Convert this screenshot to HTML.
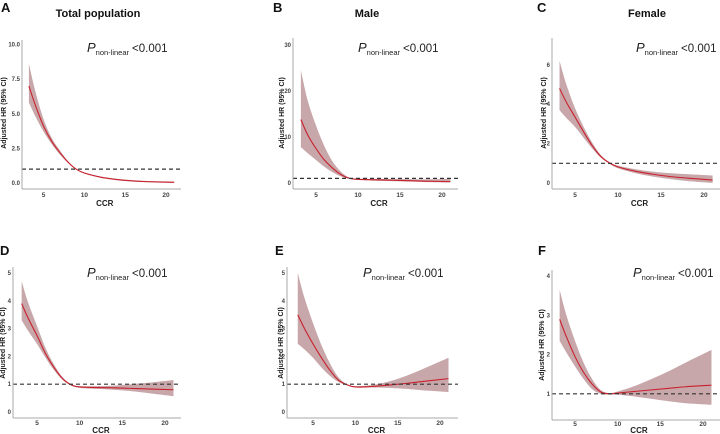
<!DOCTYPE html>
<html><head><meta charset="utf-8"><style>
body{margin:0;background:#fff;}
svg{display:block;font-family:"Liberation Sans",sans-serif;}
</style></head><body>
<svg id="fig" width="720" height="434" viewBox="0 0 720 434"></svg>
<script>
const xs=[3.2,4,5,6,7,8,9,10,12,14,16,18,21];
const xTicks=[5,10,15,20];
const hrA=[7.0,5.6,4.1,3.0,2.2,1.5,1.0,0.72,0.42,0.25,0.15,0.09,0.05];
const loA=[5.8,4.8,3.7,2.8,2.05,1.45,0.98,0.68,0.38,0.2,0.1,0.05,0.01];
const hiA=[8.6,6.6,4.6,3.25,2.35,1.58,1.02,0.76,0.47,0.3,0.2,0.14,0.1];
const hrB=[13.8,10.5,7.5,5,3.2,1.8,1.0,0.8,0.7,0.6,0.5,0.4,0.3];
const hiB=[24.5,18,12.5,8,4.6,2.4,1.15,0.95,0.9,0.9,0.85,0.8,0.9];
const loB=[7.8,6.5,5,3.5,2.3,1.4,0.9,0.65,0.5,0.4,0.3,0.2,0.1];
const hrC=[4.8,4.1,3.35,2.6,1.9,1.35,1.02,0.82,0.6,0.45,0.33,0.25,0.15];
const hiC=[6.2,5.0,3.8,2.85,2.05,1.42,1.05,0.88,0.7,0.58,0.5,0.45,0.38];
const loC=[3.7,3.3,2.85,2.3,1.75,1.28,0.98,0.75,0.5,0.33,0.2,0.1,0.0];
const hrD=[3.9,3.35,2.75,2.1,1.6,1.2,0.98,0.9,0.88,0.87,0.85,0.83,0.8];
const hiD=[4.7,3.9,3.1,2.3,1.7,1.25,1.0,0.93,0.93,0.95,1.0,1.05,1.15];
const loD=[3.3,2.9,2.45,1.95,1.5,1.15,0.95,0.87,0.83,0.8,0.75,0.68,0.57];
const hrE=[3.5,3.0,2.45,1.95,1.5,1.15,0.98,0.9,0.92,0.97,1.03,1.1,1.2];
const hiE=[5.0,4.1,3.2,2.4,1.75,1.25,1.0,0.93,0.97,1.1,1.3,1.55,1.95];
const loE=[2.45,2.25,1.95,1.6,1.3,1.08,0.96,0.88,0.88,0.87,0.83,0.78,0.72];
const hrF=[2.9,2.45,1.95,1.55,1.25,1.05,1.0,1.02,1.06,1.1,1.14,1.18,1.22];
const hiF=[3.65,3.0,2.35,1.8,1.38,1.1,1.02,1.06,1.2,1.38,1.58,1.8,2.12];
const loF=[2.35,2.05,1.7,1.38,1.12,1.0,0.98,0.98,0.93,0.87,0.81,0.76,0.72];
const yTicksA=["0.0","2.5","5.0","7.5","10.0"];
const yTicksB=["0","10","20","30"];
const yTicksC=["0","2","4","6"];
const yTicksD=["0","1","2","3","4","5"];
const yTicksF=["1","2","3","4"];

const NS="http://www.w3.org/2000/svg";
const svg=document.getElementById('fig');
function mk(tag,attrs,parent,text){const e=document.createElementNS(NS,tag);for(const k in attrs)e.setAttribute(k,attrs[k]);if(text!==undefined)e.textContent=text;(parent||svg).appendChild(e);return e;}
function spline(pts){let d="M"+pts[0][0]+","+pts[0][1];for(let i=0;i<pts.length-1;i++){const p0=pts[Math.max(i-1,0)],p1=pts[i],p2=pts[i+1],p3=pts[Math.min(i+2,pts.length-1)];const c1=[p1[0]+(p2[0]-p0[0])/6,p1[1]+(p2[1]-p0[1])/6],c2=[p2[0]-(p3[0]-p1[0])/6,p2[1]-(p3[1]-p1[1])/6];d+=" C"+c1[0]+","+c1[1]+" "+c2[0]+","+c2[1]+" "+p2[0]+","+p2[1];}return d;}

const panels=[
 {id:'a',letter:'A',lx:1,ly:12,title:'Total population',tx:98,ty:17,ax:22,top:40,bot:189,right:181,x5:43.6,xu:8.16,y0:183,yu:13.85,yt:yTicksA,hr:hrA,lo:loA,hi:hiA,dashEnd:183,px:87,py:52,ylx:6,cy:113,tk:8,ct:17},
 {id:'b',letter:'B',lx:273,ly:12,title:'Male',tx:367,ty:17,ax:293,top:38,bot:189,right:458,x5:316,xu:8.4,y0:183,yu:4.6,yt:yTicksB,hr:hrB,lo:loB,hi:hiB,dashEnd:460,px:358,py:52,ylx:284,cy:113,tk:8,ct:17},
 {id:'c',letter:'C',lx:537,ly:12,title:'Female',tx:647,ty:17,ax:552,top:38,bot:189,right:720,x5:575,xu:8.6,y0:183,yu:19.7,yt:yTicksC,hr:hrC,lo:loC,hi:hiC,dashEnd:720,px:636,py:52,ylx:546,cy:113,tk:8,ct:17},
 {id:'d',letter:'D',lx:0,ly:255,title:'',ax:13,top:267,bot:418,right:181,x5:37,xu:8.53,y0:412,yu:27.8,yt:yTicksD,hr:hrD,lo:loD,hi:hiD,dashEnd:181,px:87,py:277,ylx:5,cy:343,tk:7,ct:15},
 {id:'e',letter:'E',lx:275,ly:255,title:'',ax:287,top:267,bot:418,right:458,x5:313,xu:8.47,y0:412,yu:27.8,yt:yTicksD,hr:hrE,lo:loE,hi:hiE,dashEnd:458,px:363,py:277,ylx:283,cy:343,tk:7,ct:15},
 {id:'f',letter:'F',lx:538,ly:255,title:'',ax:552,top:270,bot:420,right:720,x5:575,xu:8.53,y0:433,yu:39.2,yt:yTicksF,hr:hrF,lo:loF,hi:hiF,dashEnd:720,px:633,py:277,ylx:544,cy:345,tk:6,ct:13}
];
panels.forEach(p=>{
 const g=mk('g',{});
 
 
 const X=v=>p.x5+(v-5)*p.xu, Y=v=>p.y0-v*p.yu;
 const L=mk('text',{x:p.lx,y:p.ly,'font-size':13,'font-weight':'bold',fill:'#111'},g,p.letter);
 
 
 if(p.title){const t=mk('text',{x:p.tx,y:p.ty,'font-size':11,'font-weight':'bold','text-anchor':'middle',fill:'#111'},g,p.title);
  
  }
 const up=xs.map((x,i)=>[X(x),Y(p.hi[i])]), dn=xs.map((x,i)=>[X(x),Y(p.lo[i])]).reverse();
 const sd=spline(dn);
 let d=spline(up)+" L"+dn[0][0]+","+dn[0][1]+sd.slice(sd.indexOf(' '))+" Z";
 const band=mk('path',{d:d,fill:'#b58a8e',opacity:0.75},g);
 
 
 const line=mk('path',{d:spline(xs.map((x,i)=>[X(x),Y(p.hr[i])])),fill:'none',stroke:'#c8202c','stroke-width':1.1},g);
 
 
 const ref=mk('line',{x1:p.ax,x2:p.dashEnd,y1:Y(1),y2:Y(1),stroke:'#333','stroke-width':1.2,'stroke-dasharray':'4,3'},g);
 
 
 const ya=mk('line',{x1:p.ax,x2:p.ax,y1:p.top,y2:p.bot,stroke:'#aaa','stroke-width':1},g);
 
 
 const xa=mk('line',{x1:p.ax,x2:p.right,y1:p.bot,y2:p.bot,stroke:'#aaa','stroke-width':1},g);
 
 
 p.yt.forEach(lab=>{const v=parseFloat(lab);const t=mk('text',{x:p.ax-2,y:Y(v)+2,'font-size':6,'font-weight':'bold','text-anchor':'end',fill:'#444'},g,lab);
  
  });
 xTicks.forEach(v=>{const t=mk('text',{x:X(v),y:p.bot+p.tk,'font-size':6.5,'font-weight':'bold','text-anchor':'middle',fill:'#444'},g,String(v));
  
  });
 const xt=mk('text',{x:(X(5)+X(20))/2,y:p.bot+p.ct,'font-size':8,'font-weight':'bold','text-anchor':'middle',fill:'#222'},g,'CCR');
 
 
 const yt=mk('text',{x:0,y:0,'font-size':7,'font-weight':'bold','text-anchor':'middle',fill:'#222',transform:'translate('+p.ylx+','+p.cy+') rotate(-90)'},g,'Adjusted HR (95% CI)');
 
 
 const pt=mk('text',{x:p.px,y:p.py,'font-size':11.5,fill:'#222'},g);
 
 
 mk('tspan',{'font-style':'italic','font-size':13},pt,'P');
 mk('tspan',{'font-size':7.5,dy:3},pt,'non-linear');
 mk('tspan',{dy:-3,dx:3},pt,'<0.001');
});
</script>
</body></html>
